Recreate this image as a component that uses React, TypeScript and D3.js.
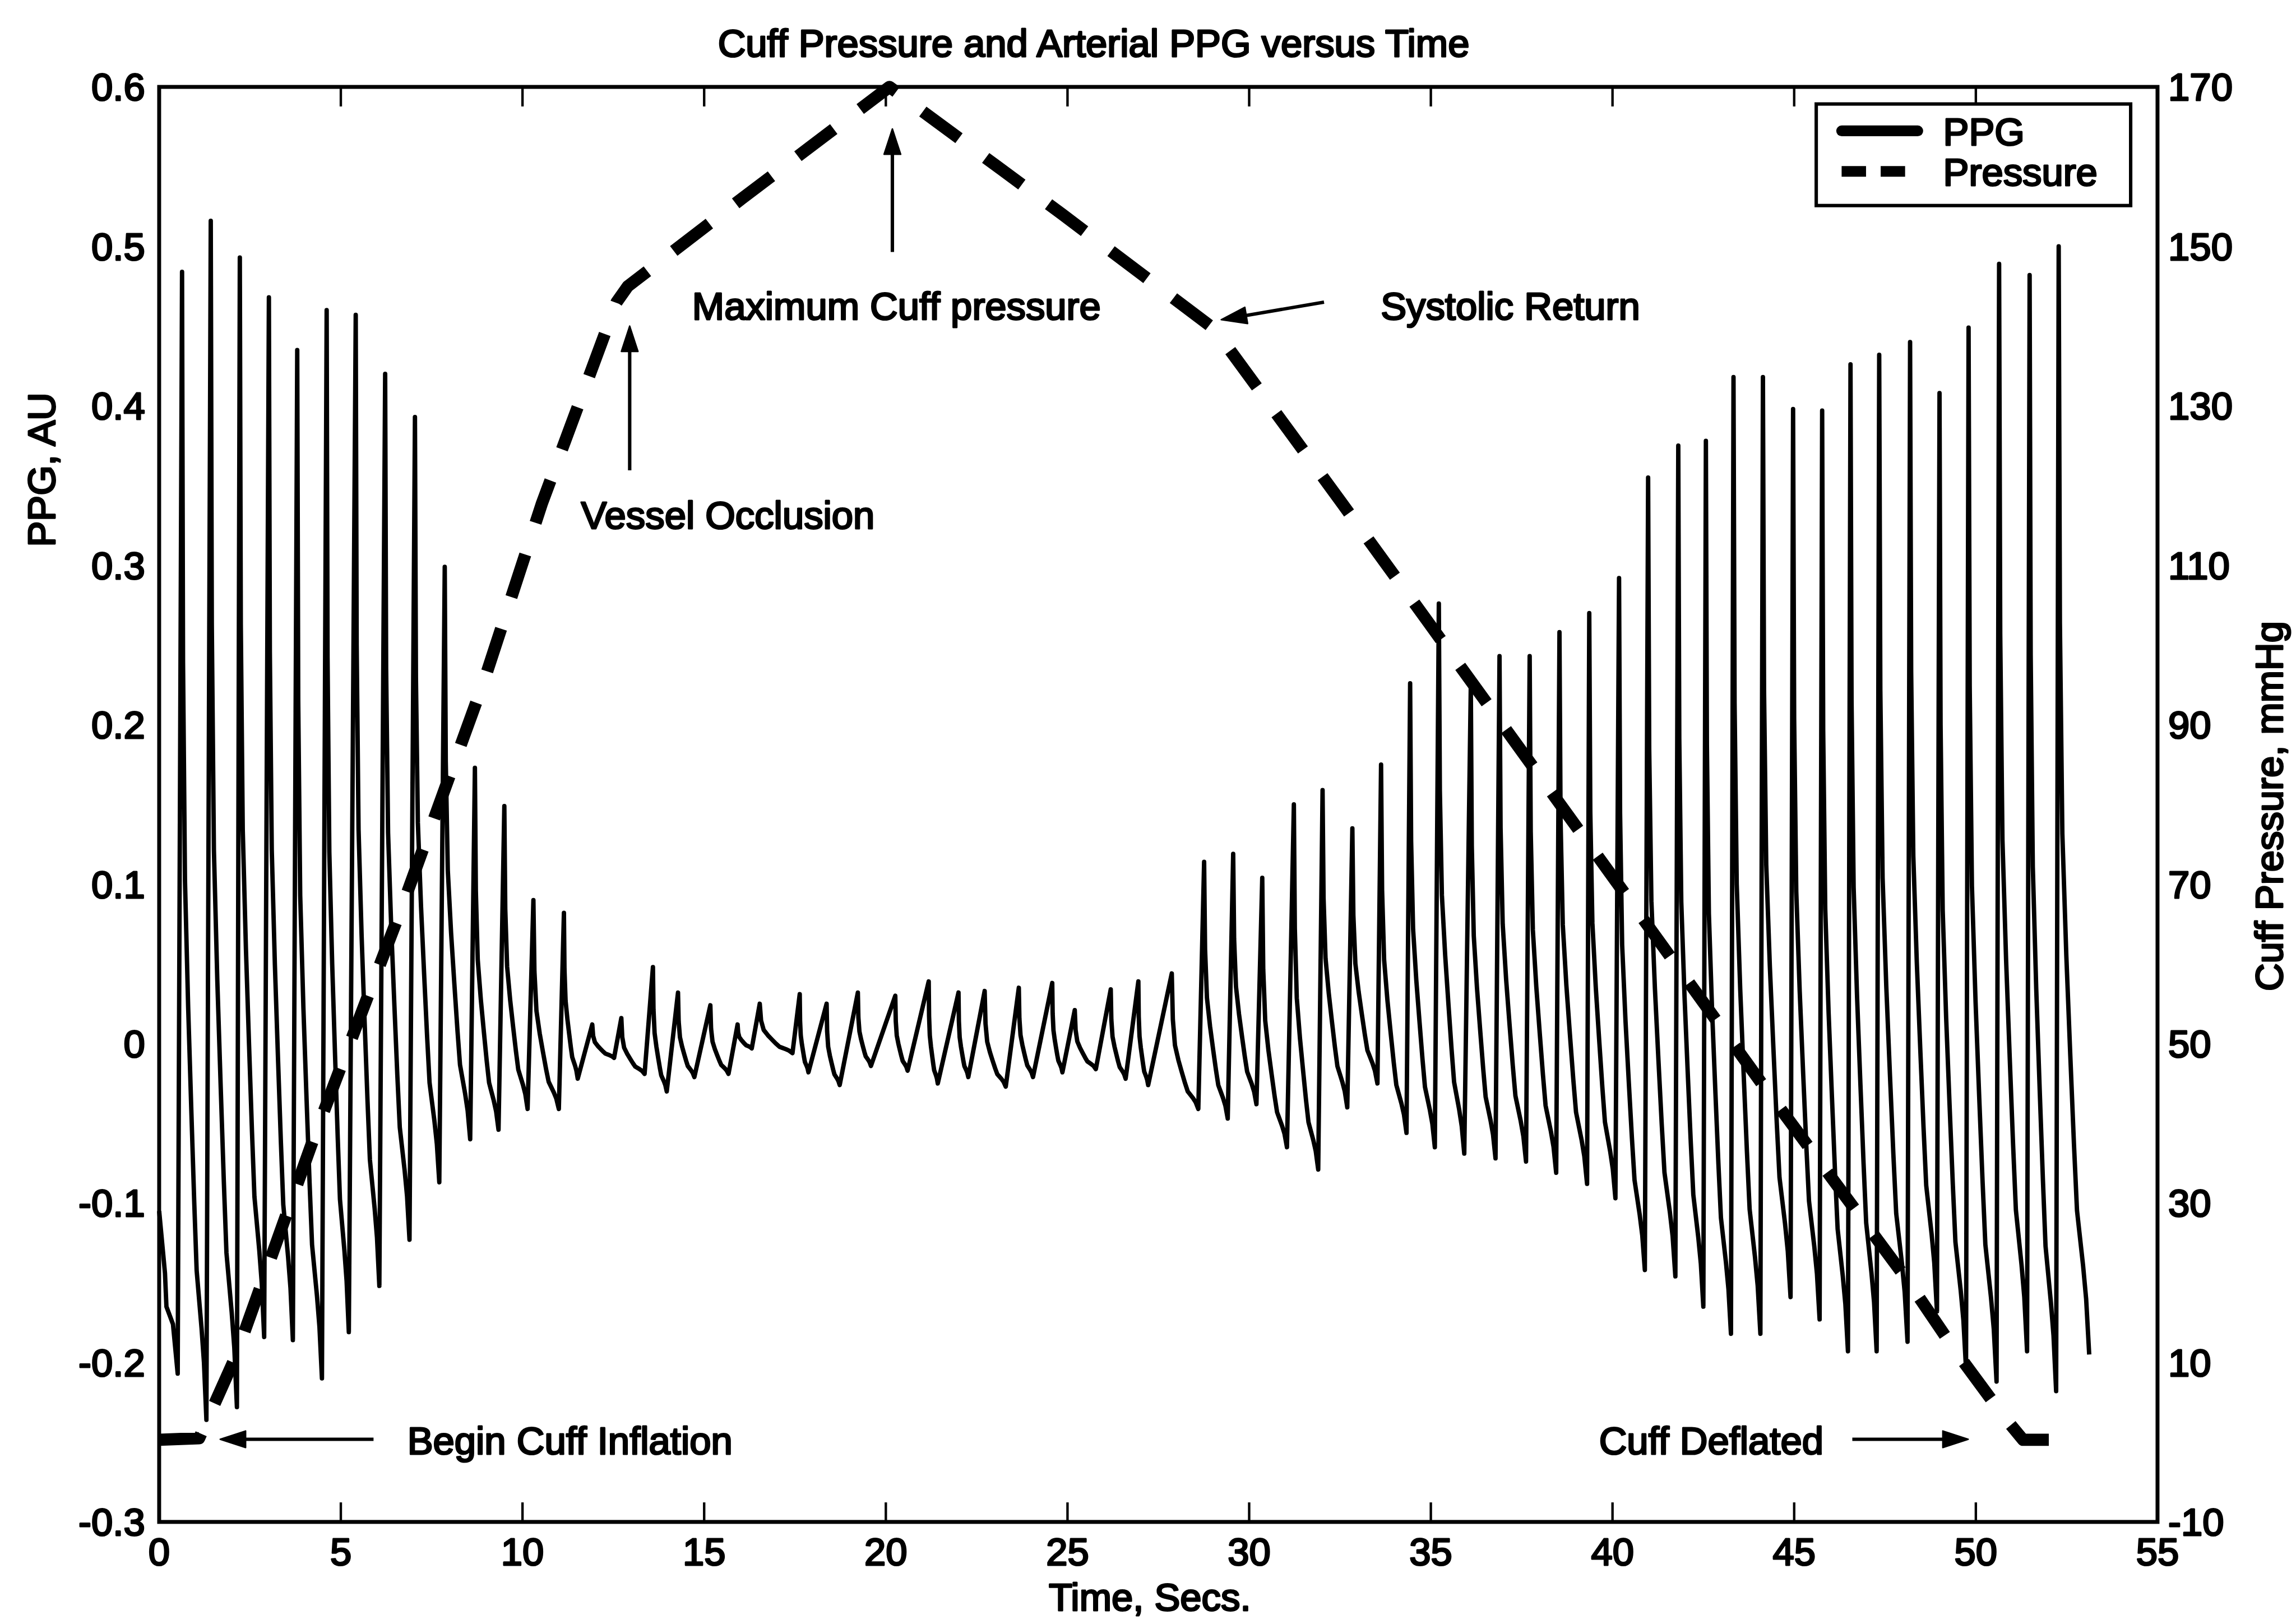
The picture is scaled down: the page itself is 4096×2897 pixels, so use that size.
import React from 'react';
import * as d3 from 'd3';

// Overall drawing size (reference units) and the factor that fits it into the window
const W = 4698;
const H = 3323;
const S = 0.871;

// Axis frame, in reference units
const FRAME = { left: 326, right: 4419, top: 178, bottom: 3117 };

// Axis ticks
const timeTicks = [0, 5, 10, 15, 20, 25, 30, 35, 40, 45, 50, 55];
const ppgTicks = [0.6, 0.5, 0.4, 0.3, 0.2, 0.1, 0, -0.1, -0.2, -0.3];
const ppgTickLabels = ['0.6', '0.5', '0.4', '0.3', '0.2', '0.1', '0', '-0.1', '-0.2', '-0.3'];
const pressureTicks = [170, 150, 130, 110, 90, 70, 50, 30, 10, -10];

// PPG: leading samples before the first trough (time s, AU)
const ppgLeadIn: [number, number][] = [
  [0.0, -0.105], [0.16, -0.144], [0.2, -0.165], [0.38, -0.176],
];

// PPG: time of each systolic peak (s)
const ppgPeakTimes = [
  0.63, 1.42, 2.22, 3.02, 3.8, 4.61, 5.41, 6.22, 7.04, 7.86, 8.69, 9.5, 10.3, 11.14,
  11.92, 12.72, 13.59, 14.28, 15.17, 15.92, 16.53, 17.63, 18.37, 19.23, 20.26, 21.18,
  22.0, 22.72, 23.66, 24.58, 25.2, 26.19, 26.95, 27.87,
  28.76, 29.56, 30.36, 31.23, 32.02, 32.84, 33.63, 34.43, 35.22, 36.1, 36.89, 37.72,
  38.54, 39.36, 40.18, 40.98,
  41.81, 42.57, 43.33, 44.14, 44.97, 45.77, 46.55, 47.34, 48.19, 49.0, 49.8, 50.64,
  51.48, 52.28,
];

// PPG: value at each systolic peak (AU)
const ppgPeakValues = [
  0.484, 0.516, 0.493, 0.468, 0.435, 0.46, 0.457, 0.42, 0.393, 0.299, 0.173, 0.149, 0.09, 0.082,
  0.012, 0.016, 0.048, 0.032, 0.024, 0.012, 0.025, 0.031, 0.025, 0.032, 0.03, 0.039,
  0.032, 0.033, 0.035, 0.038, 0.021, 0.034, 0.039, 0.044,
  0.114, 0.119, 0.104, 0.15, 0.159, 0.135, 0.175, 0.226, 0.276, 0.225, 0.243, 0.243,
  0.258, 0.27, 0.292, 0.355,
  0.375, 0.378, 0.418, 0.418, 0.398, 0.397, 0.426, 0.432, 0.44, 0.408, 0.449, 0.489,
  0.482, 0.5,
];

// PPG: time of the trough preceding each peak (s)
const ppgTroughTimes = [
  0.51, 1.3, 2.14, 2.89, 3.68, 4.48, 5.22, 6.06, 6.89, 7.71, 8.56, 9.34, 10.14, 11.0,
  11.52, 12.52, 13.36, 13.97, 14.73, 15.67, 16.31, 17.43, 17.87, 18.73, 19.59, 20.6,
  21.43, 22.27, 23.3, 24.05, 24.86, 25.78, 26.6, 27.22,
  28.6, 29.41, 30.2, 31.04, 31.9, 32.7, 33.53, 34.33, 35.11, 35.92, 36.78, 37.62,
  38.45, 39.3, 40.08, 40.89,
  41.73, 42.5, 43.26, 44.07, 44.9, 45.7, 46.48, 47.27, 48.12, 48.93, 49.73, 50.57,
  51.41, 52.21,
];

// PPG: value of the trough preceding each peak (AU)
const ppgTroughValues = [
  -0.207, -0.236, -0.228, -0.184, -0.186, -0.21, -0.181, -0.152, -0.123, -0.087, -0.06, -0.054, -0.041, -0.041,
  -0.022, -0.009, -0.019, -0.03, -0.021, -0.019, -0.003, -0.006, -0.018, -0.026, -0.014, -0.017,
  -0.025, -0.021, -0.027, -0.021, -0.018, -0.016, -0.022, -0.026,
  -0.041, -0.047, -0.038, -0.065, -0.079, -0.04, -0.025, -0.056, -0.065, -0.069, -0.072, -0.074,
  -0.081, -0.088, -0.097, -0.142,
  -0.146, -0.165, -0.182, -0.182, -0.159, -0.173, -0.193, -0.193, -0.187, -0.168, -0.204, -0.212,
  -0.193, -0.218,
];

// PPG: last sample of the record
const ppgEnd: [number, number] = [53.12, -0.195];

// Shape of the fall from a peak to the following trough:
// [fraction of the fall's duration, fraction of the peak-to-trough height]
const declineProfile: [number, number][] = [
  [0, 1], [0.04, 0.66], [0.12, 0.47], [0.25, 0.36], [0.38, 0.27], [0.5, 0.19],
  [0.6, 0.13], [0.68, 0.11], [0.8, 0.08], [0.9, 0.05], [1, 0],
];

// Cuff pressure trace vertices: time (s) and pressure (mmHg)
const pressureTimes = [
  0, 1.1, 2.1, 4.33, 6.68, 8.95, 10.53, 12.59, 12.9, 16.04, 20.1, 24.86, 29.05,
  32.55, 36.4, 40.34, 44.14, 48.12, 49.43, 50.79, 51.3, 52.75,
];
const pressureValues = [
  0.3, 0.5, 10.7, 39.1, 67.1, 95.6, 117.7, 143, 145, 156, 170, 154, 139.6,
  117.8, 93.6, 68.8, 44.8, 20.3, 11.5, 3.1, 0.3, 0.3,
];

// Series names for the legend
const seriesNames = ['PPG', 'Pressure'];

const FONT = 'Liberation Sans, Arial, Helvetica, sans-serif';
const FS = 79;

function buildPpgPoints(): [number, number][] {
  const pts: [number, number][] = [...ppgLeadIn];
  const n = ppgPeakTimes.length;
  for (let i = 0; i < n; i++) {
    const tp = ppgPeakTimes[i];
    const vp = ppgPeakValues[i];
    pts.push([ppgTroughTimes[i], ppgTroughValues[i]]);
    pts.push([tp, vp]);
    const endT = i + 1 < n ? ppgTroughTimes[i + 1] : ppgEnd[0];
    const endV = i + 1 < n ? ppgTroughValues[i + 1] : ppgEnd[1];
    for (const [u, level] of declineProfile.slice(1, -1)) {
      pts.push([tp + u * (endT - tp), endV + level * (vp - endV)]);
    }
  }
  pts.push(ppgEnd);
  return pts;
}

function Arrow({ x1, y1, x2, y2 }: { x1: number; y1: number; x2: number; y2: number }) {
  // line from (x1,y1) to the tip at (x2,y2), with a filled head
  const len = 52;
  const half = 17;
  const dx = x2 - x1;
  const dy = y2 - y1;
  const d = Math.hypot(dx, dy);
  const ux = dx / d;
  const uy = dy / d;
  const bx = x2 - ux * len;
  const by = y2 - uy * len;
  const head = `${x2},${y2} ${bx - uy * half},${by + ux * half} ${bx + uy * half},${by - ux * half}`;
  return (
    <g>
      <line x1={x1} y1={y1} x2={bx} y2={by} stroke="#000" strokeWidth={7} />
      <polygon points={head} fill="#000" stroke="#000" strokeWidth={3} strokeLinejoin="round" />
    </g>
  );
}

export default function App() {
  const x = d3.scaleLinear().domain([0, 55]).range([FRAME.left, FRAME.right]);
  const yL = d3.scaleLinear().domain([-0.3, 0.6]).range([FRAME.bottom, FRAME.top]);
  const yR = d3.scaleLinear().domain([-10, 170]).range([FRAME.bottom, FRAME.top]);

  const ppgLine = d3
    .line<[number, number]>()
    .x((d) => x(d[0]))
    .y((d) => yL(d[1]));
  const pressureData: [number, number][] = pressureTimes.map((t, i) => [t, pressureValues[i]]);
  const pressureLine = d3
    .line<[number, number]>()
    .x((d) => x(d[0]))
    .y((d) => yR(d[1]));

  const ppgPath = ppgLine(buildPpgPoints()) || '';
  const pressurePath = pressureLine(pressureData) || '';

  const tickLen = 40;
  const textStyle = {
    fontFamily: FONT,
    fontSize: FS,
    fill: '#000',
    stroke: '#000',
    strokeWidth: 3.5,
    strokeLinejoin: 'round' as const,
  };

  return (
    <svg
      width={Math.round(W * S)}
      height={Math.round(H * S)}
      style={{ position: 'absolute', left: 0, top: 0, background: '#fff' }}
    >
      <rect x={0} y={0} width={W * S} height={H * S} fill="#fff" />
      <g transform={`scale(${S})`}>
        {/* title */}
        <text x={2240} y={116} textAnchor="middle" {...textStyle}>
          Cuff Pressure and Arterial PPG versus Time
        </text>

        {/* data */}
        <path d={ppgPath} fill="none" stroke="#000" strokeWidth={9} strokeLinejoin="round" />
        <path
          d={pressurePath}
          fill="none"
          stroke="#000"
          strokeWidth={25}
          strokeDasharray="92 68"
          strokeLinejoin="round"
        />

        {/* frame */}
        <rect
          x={FRAME.left}
          y={FRAME.top}
          width={FRAME.right - FRAME.left}
          height={FRAME.bottom - FRAME.top}
          fill="none"
          stroke="#000"
          strokeWidth={8}
        />

        {/* time ticks, bottom and top */}
        {timeTicks.map((t) => (
          <g key={`tt${t}`}>
            <line x1={x(t)} x2={x(t)} y1={FRAME.bottom} y2={FRAME.bottom - tickLen} stroke="#000" strokeWidth={5} />
            <line x1={x(t)} x2={x(t)} y1={FRAME.top} y2={FRAME.top + tickLen} stroke="#000" strokeWidth={5} />
            <text x={x(t)} y={3206} textAnchor="middle" {...textStyle}>
              {t}
            </text>
          </g>
        ))}

        {/* left axis labels */}
        {ppgTicks.map((v, i) => (
          <text key={`pl${v}`} x={297} y={yL(v) + 28} textAnchor="end" {...textStyle}>
            {ppgTickLabels[i]}
          </text>
        ))}

        {/* right axis labels */}
        {pressureTicks.map((v) => (
          <text key={`pr${v}`} x={4441} y={yR(v) + 28} textAnchor="start" {...textStyle}>
            {v}
          </text>
        ))}

        {/* axis titles */}
        <text x={2355} y={3298} textAnchor="middle" {...textStyle}>
          Time, Secs.
        </text>
        <text transform={`translate(112,962) rotate(-90)`} textAnchor="middle" {...textStyle}>
          PPG, AU
        </text>
        <text transform={`translate(4675,1651) rotate(-90)`} textAnchor="middle" {...textStyle}>
          Cuff Pressure, mmHg
        </text>

        {/* annotations */}
        <text x={x(14.67)} y={yR(140.85)} {...textStyle}>
          Maximum Cuff pressure
        </text>
        <Arrow x1={x(20.18)} y1={yR(149.3)} x2={x(20.18)} y2={yR(164.73)} />

        <text x={x(11.61)} y={yR(114.6)} {...textStyle}>
          Vessel Occlusion
        </text>
        <Arrow x1={x(12.95)} y1={yR(121.9)} x2={x(12.95)} y2={yR(140.0)} />

        <text x={x(33.62)} y={yR(140.85)} {...textStyle}>
          Systolic Return
        </text>
        <Arrow x1={x(32.06)} y1={yR(143.0)} x2={x(29.23)} y2={yR(140.8)} />

        <text x={x(6.83)} y={yR(-1.47)} {...textStyle}>
          Begin Cuff Inflation
        </text>
        <Arrow x1={x(5.9)} y1={yR(0.37)} x2={x(1.68)} y2={yR(0.37)} />

        <text x={x(39.63)} y={yR(-1.47)} {...textStyle}>
          Cuff Deflated
        </text>
        <Arrow x1={x(46.6)} y1={yR(0.37)} x2={x(49.79)} y2={yR(0.37)} />

        {/* legend */}
        <rect x={3720} y={213} width={644} height={208} fill="#fff" stroke="#000" strokeWidth={7} />
        <line x1={3772} x2={3928} y1={268} y2={268} stroke="#000" strokeWidth={22} strokeLinecap="round" />
        <line
          x1={3772}
          x2={3905}
          y1={351}
          y2={351}
          stroke="#000"
          strokeWidth={22}
          strokeDasharray="50 30"
        />
        <text x={3980} y={297} {...textStyle}>
          {seriesNames[0]}
        </text>
        <text x={3980} y={380} {...textStyle}>
          {seriesNames[1]}
        </text>
      </g>
    </svg>
  );
}
